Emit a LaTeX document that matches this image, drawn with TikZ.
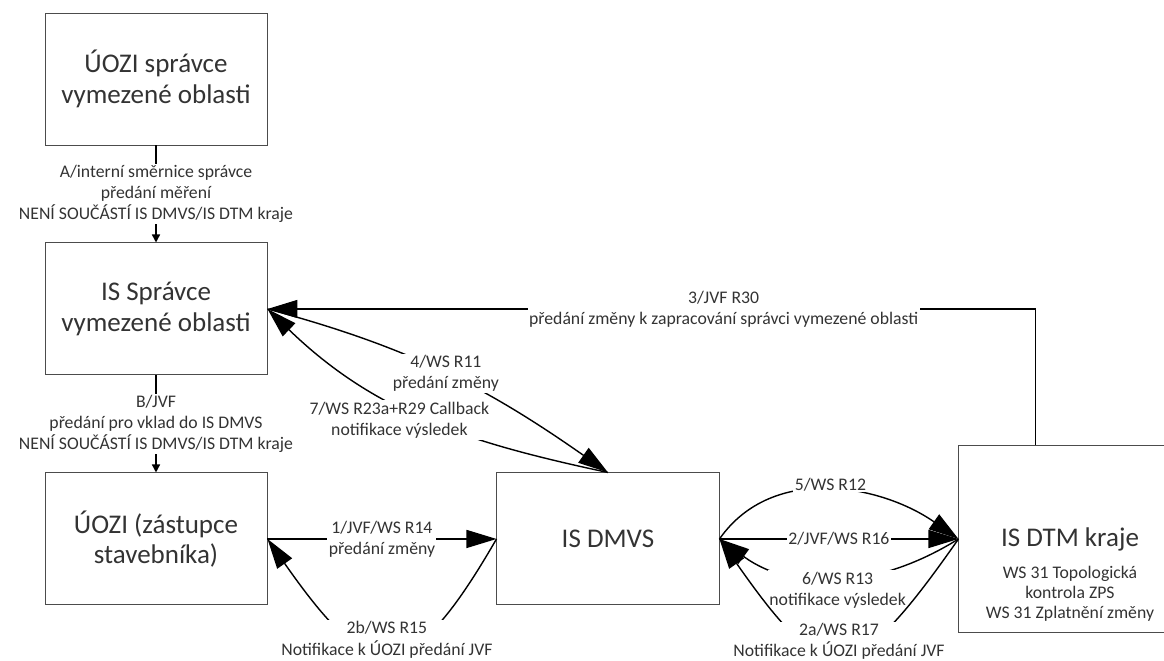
\documentclass[tikz,border=0pt]{standalone}
\usepackage{fontspec}
\setmainfont{Carlito}
\usetikzlibrary{positioning,calc,arrows.meta}

\begin{document}
\begin{tikzpicture}[
		box/.style={draw=black!70, line width=0.7pt, minimum width=5.55cm, minimum height=3.3cm, align=center, text=black!80, font=\fontsize{19.2}{21.5}\selectfont},
		lbl/.style={fill=white, align=center, inner sep=1pt, text=black!80, font=\fontsize{12.6}{15.2}\selectfont},
		big/.style={-{Triangle[length=0.75cm,width=0.45cm]}, line width=1pt},
		small/.style={-{Triangle[length=0.2cm,width=0.2cm]}, line width=1pt}]
	\useasboundingbox (0,0) rectangle (29.1,-16.525);
	\node[box] (uozisprav) at (3.9,-1.975) {ÚOZI správce\\vymezené oblasti};
	\node[box, below=2.425cm of uozisprav] (issprav) {IS Správce\\vymezené oblasti};
	\node[box, below=2.425cm of issprav] (uozi) {ÚOZI (zástupce\\stavebníka)};
	\node[box, right=5.725cm of uozi] (dmvs) {IS DMVS};
	\node[box, draw=none, right=5.975cm of dmvs, minimum height=4.65cm] (dtm) {IS DTM kraje};
	\draw[black!70, line width=0.7pt] (dtm.north east) -- (dtm.north west) -- (dtm.south west) -- (dtm.south east);
	\node[lbl, fill=none, font=\fontsize{12.6}{14.2}\selectfont] at ($(dtm.center)+(0,-1.375)$) (dtmsub) {WS 31 Topologická\\kontrola ZPS\\WS 31 Zplatnění změny};
	\coordinate (t) at ([xshift=1.925cm]dtm.north west);
	%
	\draw[small] (uozisprav) -- node[lbl] {A/interní směrnice správce\\předání měření\\NENÍ SOUČÁSTÍ IS DMVS/IS DTM kraje} (issprav);
	\draw[small] (issprav) -- node[lbl] {B/JVF\\předání pro vklad do IS DMVS\\NENÍ SOUČÁSTÍ IS DMVS/IS DTM kraje} (uozi);
	\draw[big] (t) |- node[lbl, pos=0.703] {3/JVF R30\\předání změny k zapracování správci vymezené oblasti} (issprav);
	\draw[big] (issprav.east) to[out=-15, in=145] node[lbl] {4/WS R11\\předání změny} (dmvs.north);
	\draw[big] (dmvs.north) to[out=168, in=-44] node[lbl, pos=0.55, xshift=-0.2cm, yshift=-0.25cm] {7/WS R23a+R29 Callback\\notifikace výsledek} (issprav.east);
	\draw[big] (uozi) -- node[lbl] {1/JVF/WS R14\\předání změny} (dmvs);
	\draw[big] (dmvs.west) to[out=-120, in=-55, looseness=2] node[lbl, yshift=0.3cm] {2b/WS R15\\Notifikace k ÚOZI předání JVF} (uozi.east);
	%
	\draw[big] (dmvs.east) to[out=55, in=145] node[lbl, yshift=0.15cm] {5/WS R12} (dtm.west);
	\draw[big] (dmvs) -- node[lbl] {2/JVF/WS R16} (dtm);
	\draw[big] (dtm.west) to[out=-148, in=-36] node[lbl, yshift=-0.3cm] {6/WS R13\\notifikace výsledek} (dmvs.east);
	\draw[big] (dtm.west) to[out=-125, in=-55, looseness=2] node[lbl, yshift=0.3cm] {2a/WS R17\\Notifikace k ÚOZI předání JVF} (dmvs.east);
\end{tikzpicture}
\end{document}
